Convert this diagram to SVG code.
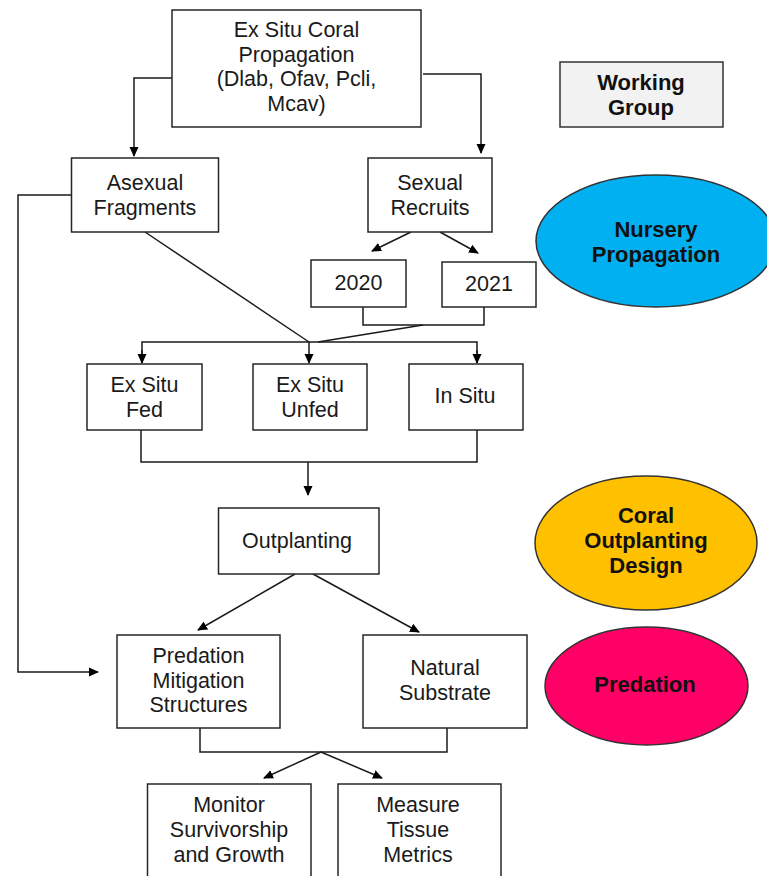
<svg xmlns="http://www.w3.org/2000/svg" width="767" height="876" viewBox="0 0 767 876">
<defs>
<style>
.box{fill:#fff;stroke:#262626;stroke-width:1.5}
.t{font-family:"Liberation Sans",Arial,sans-serif;font-size:21.5px;fill:#1a1a1a;text-anchor:middle}
.b{font-family:"Liberation Sans",Arial,sans-serif;font-size:22px;font-weight:bold;fill:#111;text-anchor:middle}
.c{fill:none;stroke:#1a1a1a;stroke-width:1.5}
.ell{stroke:#333;stroke-width:1.5}
</style>
<marker id="ah" markerWidth="10" markerHeight="10" refX="9" refY="5" orient="auto" markerUnits="userSpaceOnUse">
<path d="M0,0.5 L10,5 L0,9.5 Z" fill="#000"/>
</marker>
</defs>
<rect width="767" height="876" fill="#fff"/>
<g id="connectors">
<path class="c" d="M172,78 H134 V156" marker-end="url(#ah)"/>
<path class="c" d="M423,74 H481 V153" marker-end="url(#ah)"/>
<path class="c" d="M71,195 H18 V672 H98" marker-end="url(#ah)"/>
<path class="c" d="M145,232 L309,342"/>
<path class="c" d="M411,232 L372,251" marker-end="url(#ah)"/>
<path class="c" d="M440,232 L478,253" marker-end="url(#ah)"/>
<path class="c" d="M363,307 V325 H484 V307"/>
<path class="c" d="M423,325 L318,342"/>
<path class="c" d="M142,363 V342 H477 V363"/>
<path class="c" d="M142,350 V363" marker-end="url(#ah)"/>
<path class="c" d="M309,342 V363" marker-end="url(#ah)"/>
<path class="c" d="M477,350 V363" marker-end="url(#ah)"/>
<path class="c" d="M141,430 V462 H477 V430"/>
<path class="c" d="M308,462 V495" marker-end="url(#ah)"/>
<path class="c" d="M295,574 L198,630" marker-end="url(#ah)"/>
<path class="c" d="M313,574 L419,632" marker-end="url(#ah)"/>
<path class="c" d="M200,728 V752 H447 V728"/>
<path class="c" d="M321,752 L264,778" marker-end="url(#ah)"/>
<path class="c" d="M321,752 L382,778" marker-end="url(#ah)"/>
</g>
<g id="n-top">
<rect class="box" x="172" y="10" width="249" height="117"/>
<text class="t" x="296.5" y="37">Ex Situ Coral</text>
<text class="t" x="296.5" y="61.5">Propagation</text>
<text class="t" x="296.5" y="86">(Dlab, Ofav, Pcli,</text>
<text class="t" x="296.5" y="110.5">Mcav)</text>
</g>
<g id="n-working">
<rect x="560" y="62" width="163" height="65" fill="#f2f2f2" stroke="#333" stroke-width="1.5"/>
<text class="b" x="641" y="90">Working</text>
<text class="b" x="641" y="115">Group</text>
</g>
<g id="n-asexual">
<rect class="box" x="71.5" y="158" width="147" height="74"/>
<text class="t" x="145" y="190">Asexual</text>
<text class="t" x="145" y="215">Fragments</text>
</g>
<g id="n-sexual">
<rect class="box" x="368" y="158" width="124" height="74"/>
<text class="t" x="430" y="190">Sexual</text>
<text class="t" x="430" y="215">Recruits</text>
</g>
<g id="n-nursery">
<ellipse class="ell" cx="656" cy="241" rx="120" ry="66" fill="#00b0f0"/>
<text class="b" x="656" y="237">Nursery</text>
<text class="b" x="656" y="262">Propagation</text>
</g>
<g id="n-2020">
<rect class="box" x="311" y="260" width="95" height="47"/>
<text class="t" x="358.5" y="290">2020</text>
</g>
<g id="n-2021">
<rect class="box" x="442" y="262" width="94" height="45"/>
<text class="t" x="489" y="291">2021</text>
</g>
<g id="n-fed">
<rect class="box" x="87" y="364" width="115" height="66"/>
<text class="t" x="144.5" y="392">Ex Situ</text>
<text class="t" x="144.5" y="417">Fed</text>
</g>
<g id="n-unfed">
<rect class="box" x="253" y="364" width="114" height="66"/>
<text class="t" x="310" y="392">Ex Situ</text>
<text class="t" x="310" y="417">Unfed</text>
</g>
<g id="n-insitu">
<rect class="box" x="409" y="364" width="114" height="66"/>
<text class="t" x="465" y="403">In Situ</text>
</g>
<g id="n-outplanting">
<rect class="box" x="218.5" y="508" width="160.5" height="66"/>
<text class="t" x="297" y="548">Outplanting</text>
</g>
<g id="n-design">
<ellipse class="ell" cx="646" cy="543" rx="111" ry="67" fill="#ffc000"/>
<text class="b" x="646" y="523">Coral</text>
<text class="b" x="646" y="548">Outplanting</text>
<text class="b" x="646" y="573">Design</text>
</g>
<g id="n-mitigation">
<rect class="box" x="117" y="635" width="163" height="93"/>
<text class="t" x="198.5" y="663">Predation</text>
<text class="t" x="198.5" y="688">Mitigation</text>
<text class="t" x="198.5" y="712">Structures</text>
</g>
<g id="n-natural">
<rect class="box" x="363" y="635" width="164" height="93"/>
<text class="t" x="445" y="675">Natural</text>
<text class="t" x="445" y="700">Substrate</text>
</g>
<g id="n-predation">
<ellipse class="ell" cx="646.5" cy="686" rx="101.5" ry="59" fill="#ff0066"/>
<text class="b" x="645" y="692">Predation</text>
</g>
<g id="n-monitor">
<rect class="box" x="147.5" y="784" width="163.5" height="100"/>
<text class="t" x="229" y="812">Monitor</text>
<text class="t" x="229" y="837">Survivorship</text>
<text class="t" x="229" y="862">and Growth</text>
</g>
<g id="n-measure">
<rect class="box" x="338" y="784" width="163" height="100"/>
<text class="t" x="418" y="812">Measure</text>
<text class="t" x="418" y="837">Tissue</text>
<text class="t" x="418" y="862">Metrics</text>
</g>
</svg>
